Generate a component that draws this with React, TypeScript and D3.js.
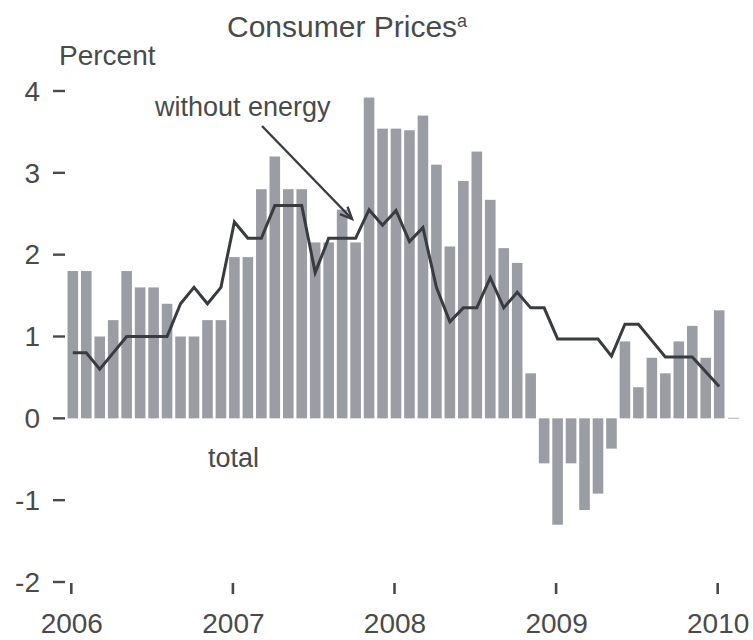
import React from "react";
import * as d3 from "d3";

const months: number[] = d3.range(49); // Jan 2006 .. Jan 2010
const totalValues: number[] = [
  1.8, 1.8, 1.0, 1.2, 1.8, 1.6, 1.6, 1.4, 1.0, 1.0, 1.2, 1.2,
  1.97, 1.97, 2.8, 3.2, 2.8, 2.8, 2.15, 2.15, 2.55, 2.15, 3.92, 3.54,
  3.54, 3.52, 3.7, 3.1, 2.1, 2.9, 3.26, 2.67, 2.08, 1.9, 0.55, -0.55,
  -1.3, -0.55, -1.12, -0.92, -0.37, 0.94, 0.38, 0.74, 0.55, 0.94, 1.13, 0.74,
  1.32,
];
const coreValues: number[] = [
  0.8, 0.8, 0.6, 0.8, 1.0, 1.0, 1.0, 1.0, 1.4, 1.6, 1.4, 1.6,
  2.4, 2.2, 2.2, 2.6, 2.6, 2.6, 1.78, 2.2, 2.2, 2.2, 2.55, 2.36,
  2.54, 2.16, 2.33, 1.6, 1.18, 1.35, 1.35, 1.72, 1.35, 1.54, 1.35, 1.35,
  0.97, 0.97, 0.97, 0.97, 0.76, 1.15, 1.15, 0.95, 0.75, 0.75, 0.75, 0.57,
  0.39,
];
const yTicks: number[] = [-2, -1, 0, 1, 2, 3, 4];
const yearTickIndex: number[] = [0, 12, 24, 36, 48];
const yearLabels: string[] = ["2006", "2007", "2008", "2009", "2010"];

const W = 753;
const H = 640;
const FONT = "'Liberation Sans', Arial, Helvetica, sans-serif";
const TEXT = "#4a4a4a";
const BAR = "#9a9da4";
const LINE = "#383b40";

export default function App() {
  const x = d3.scaleLinear().domain([0, 48]).range([72.8, 719.2]);
  const y = d3.scaleLinear().domain([-2, 4]).range([582, 91]);
  const barW = 10.6;

  const line = d3
    .line<number>()
    .x((_, i) => x(months[i]))
    .y((d) => y(d));

  // arrow
  const ax1 = 262, ay1 = 126, ax2 = 352, ay2 = 219;
  const ang = Math.atan2(ay2 - ay1, ax2 - ax1);
  const hl = 13, ha = 0.42;
  const h1x = ax2 - hl * Math.cos(ang - ha);
  const h1y = ay2 - hl * Math.sin(ang - ha);
  const h2x = ax2 - hl * Math.cos(ang + ha);
  const h2y = ay2 - hl * Math.sin(ang + ha);

  return (
    <svg
      width={W}
      height={H}
      style={{ position: "absolute", left: 0, top: 0, background: "#fff" }}
      fontFamily={FONT}
    >
      <rect x={0} y={0} width={W} height={H} fill="#fff" />
      {/* title */}
      <text x={227} y={37} fontSize={30} fill={TEXT}>
        Consumer Prices
        <tspan fontSize={18} dy={-10}>a</tspan>
      </text>
      <text x={59} y={65} fontSize={28} fill={TEXT}>
        Percent
      </text>

      {/* y axis ticks */}
      {yTicks.map((t) => (
        <g key={t}>
          <line x1={53} x2={65} y1={y(t)} y2={y(t)} stroke={TEXT} strokeWidth={2.4} />
          <text
            x={40}
            y={y(t)}
            dy="0.35em"
            textAnchor="end"
            fontSize={28}
            fill={TEXT}
          >
            {t < 0 ? `-${Math.abs(t)}` : t}
          </text>
        </g>
      ))}

      {/* bars */}
      {totalValues.map((v, i) => (
        <rect
          key={i}
          x={x(months[i]) - barW / 2}
          y={v >= 0 ? y(v) : y(0)}
          width={barW}
          height={Math.abs(y(v) - y(0))}
          fill={BAR}
        />
      ))}
      <line x1={728} x2={739} y1={y(0)} y2={y(0)} stroke="#c8c8c8" strokeWidth={1.5} />

      {/* core line */}
      <path
        d={line(coreValues) || ""}
        fill="none"
        stroke={LINE}
        strokeWidth={3}
        strokeLinejoin="miter"
      />

      {/* x ticks */}
      {yearTickIndex.map((m, k) => (
        <g key={m}>
          <line
            x1={x(m) - 1.5}
            x2={x(m) - 1.5}
            y1={583}
            y2={594}
            stroke={TEXT}
            strokeWidth={2.6}
          />
          <text x={x(m) - 1} y={633} textAnchor="middle" fontSize={28} fill={TEXT}>
            {yearLabels[k]}
          </text>
        </g>
      ))}

      {/* annotations */}
      <text x={155} y={116} fontSize={27} fill={TEXT}>
        without energy
      </text>
      <line x1={ax1} y1={ay1} x2={ax2} y2={ay2} stroke={LINE} strokeWidth={2.4} />
      <polyline
        points={`${h1x},${h1y} ${ax2},${ay2} ${h2x},${h2y}`}
        fill="none"
        stroke={LINE}
        strokeWidth={2.4}
      />
      <text x={208} y={467} fontSize={27} fill={TEXT}>
        total
      </text>
    </svg>
  );
}
